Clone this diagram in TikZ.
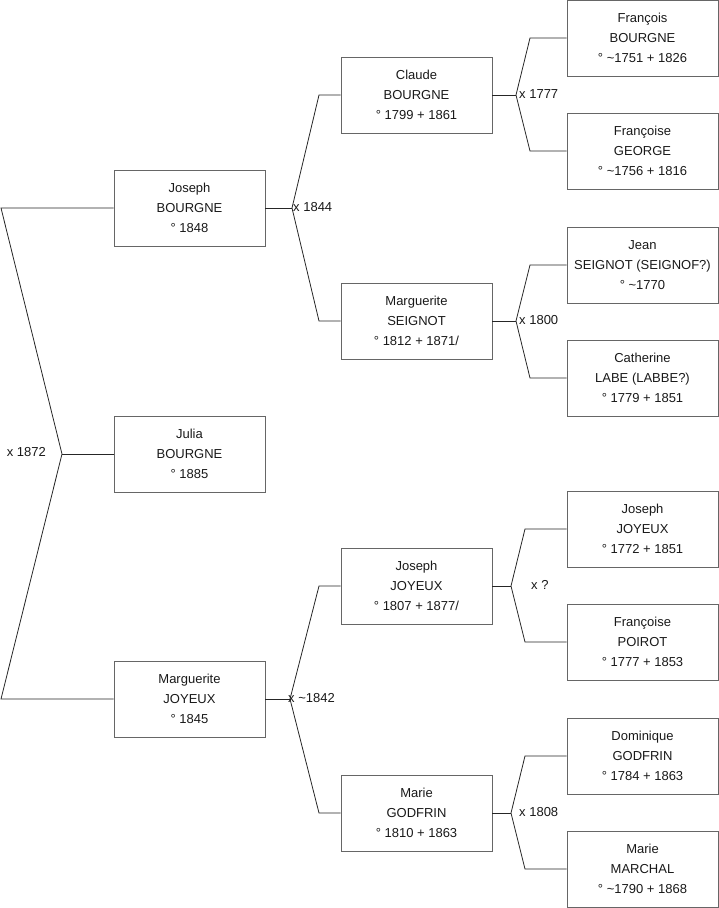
\documentclass[tikz,border=0pt]{standalone}
\usepackage{fontspec}
\setmainfont{Liberation Sans}
\begin{document}
\begin{tikzpicture}[x=1pt,y=-1pt,
  person/.style={draw=black!60, line width=0.9pt, minimum width=151pt, minimum height=76pt, inner sep=0pt, align=center, font=\fontsize{13}{20}\selectfont, text=black!90},
  link/.style={draw=black!85, line width=0.8pt},
  mlabel/.style={font=\fontsize{13}{15}\selectfont, inner sep=1pt, text=black!90}]
\useasboundingbox (0,0) rectangle (719,908);
% column 1
\node[person] (b1) at (189.5,208) {Joseph\\BOURGNE\\° 1848};
\node[person] (b2) at (189.5,454) {Julia\\BOURGNE\\° 1885};
\node[person] (b3) at (189.5,699) {Marguerite\\JOYEUX\\° 1845};
% column 2
\node[person] (c1) at (416.5,95) {Claude\\BOURGNE\\° 1799 + 1861};
\node[person] (c2) at (416.5,321) {Marguerite\\SEIGNOT\\° 1812 + 1871/};
\node[person] (c3) at (416.5,586) {Joseph\\JOYEUX\\° 1807 + 1877/};
\node[person] (c4) at (416.5,813) {Marie\\GODFRIN\\° 1810 + 1863};
% column 3
\node[person] (d1) at (642.5,38) {François\\BOURGNE\\° \textasciitilde1751 + 1826};
\node[person] (d2) at (642.5,151) {Françoise\\GEORGE\\° \textasciitilde1756 + 1816};
\node[person] (d3) at (642.5,265) {Jean\\SEIGNOT (SEIGNOF?)\\° \textasciitilde1770};
\node[person] (d4) at (642.5,378) {Catherine\\LABE (LABBE?)\\° 1779 + 1851};
\node[person] (d5) at (642.5,529) {Joseph\\JOYEUX\\° 1772 + 1851};
\node[person] (d6) at (642.5,642) {Françoise\\POIROT\\° 1777 + 1853};
\node[person] (d7) at (642.5,756) {Dominique\\GODFRIN\\° 1784 + 1863};
\node[person] (d8) at (642.5,869) {Marie\\MARCHAL\\° \textasciitilde1790 + 1868};
% junction points
\coordinate (k1) at (1,208);
\coordinate (k2) at (1,699);
\coordinate (j0) at (62,454);
\coordinate (j1) at (292,208);
\coordinate (j1a) at (319,95);
\coordinate (j1b) at (319,321);
\coordinate (j2) at (290,699);
\coordinate (j2a) at (319,586);
\coordinate (j2b) at (319,813);
\coordinate (j3) at (516,95);
\coordinate (j3a) at (530,38);
\coordinate (j3b) at (530,151);
\coordinate (j4) at (516,321);
\coordinate (j4a) at (530,265);
\coordinate (j4b) at (530,378);
\coordinate (j5) at (511,586);
\coordinate (j5a) at (525,529);
\coordinate (j5b) at (525,642);
\coordinate (j6) at (511,813);
\coordinate (j6a) at (525,756);
\coordinate (j6b) at (525,869);
% connectors
\draw[link] (b1.west) -- (k1) -- (j0) -- (k2) -- (b3.west);
\draw[link] (j0) -- (b2.west);
\draw[link] (b1.east) -- (j1);
\draw[link] (c1.west) -- (j1a) -- (j1) -- (j1b) -- (c2.west);
\draw[link] (b3.east) -- (j2);
\draw[link] (c3.west) -- (j2a) -- (j2) -- (j2b) -- (c4.west);
\draw[link] (c1.east) -- (j3);
\draw[link] (d1.west) -- (j3a) -- (j3) -- (j3b) -- (d2.west);
\draw[link] (c2.east) -- (j4);
\draw[link] (d3.west) -- (j4a) -- (j4) -- (j4b) -- (d4.west);
\draw[link] (c3.east) -- (j5);
\draw[link] (d5.west) -- (j5a) -- (j5) -- (j5b) -- (d6.west);
\draw[link] (c4.east) -- (j6);
\draw[link] (d7.west) -- (j6a) -- (j6) -- (j6b) -- (d8.west);
% marriage labels
\node[mlabel, anchor=east] (m0) at (47,452) {x 1872};
\node[mlabel, anchor=west] (m1) at (292,207) {x 1844};
\node[mlabel, anchor=west] (m2) at (287,698) {x \textasciitilde1842};
\node[mlabel, anchor=west] (m3) at (518,94) {x 1777};
\node[mlabel, anchor=west] (m4) at (518,320) {x 1800};
\node[mlabel, anchor=west] (m5) at (530,585) {x ?};
\node[mlabel, anchor=west] (m6) at (518,812) {x 1808};
\end{tikzpicture}
\end{document}
